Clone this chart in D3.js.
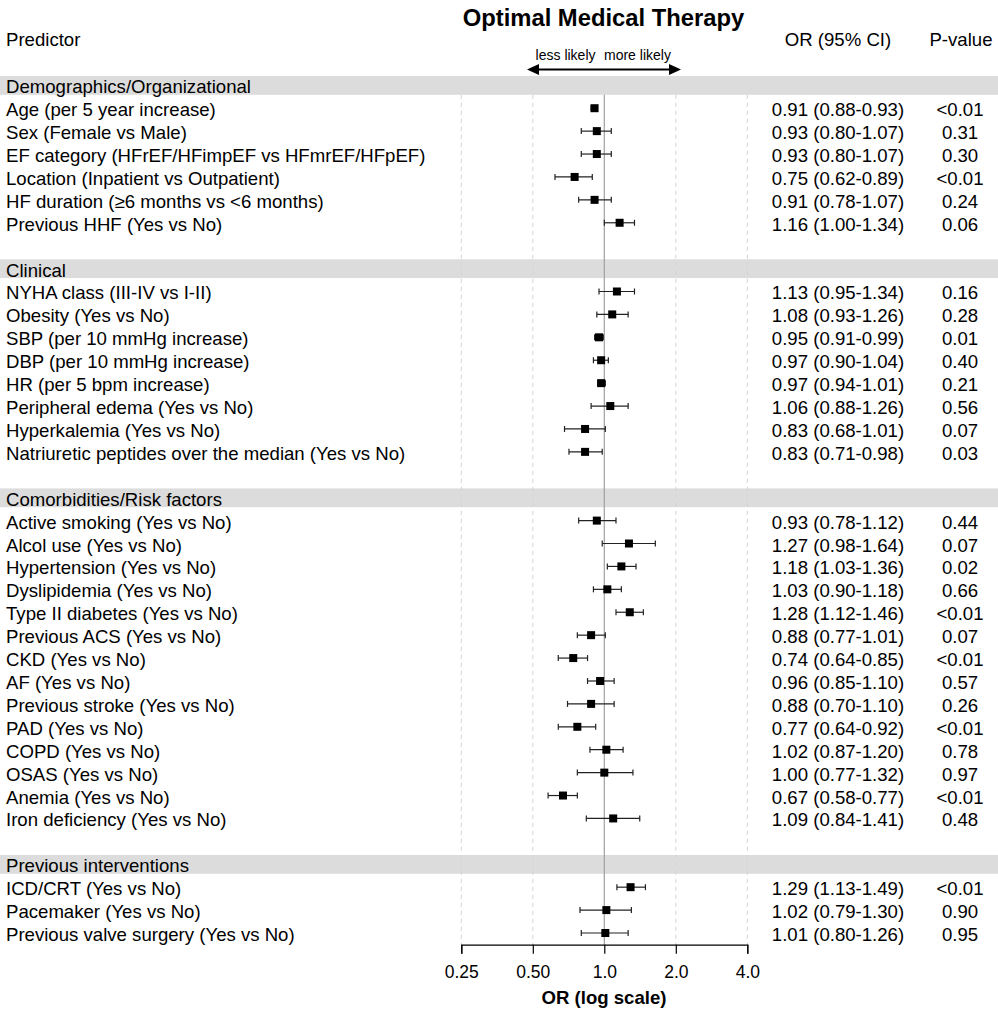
<!DOCTYPE html>
<html><head><meta charset="utf-8">
<script src="https://cdn.jsdelivr.net/npm/d3@7"></script>
<style>body{margin:0;background:#fff}svg{display:block;font-family:"Liberation Sans",Arial,Helvetica,sans-serif}</style>
</head><body><svg id="c" width="998" height="1017"></svg>
<script>
// Row list: type "h" = section header, "r" = predictor row, "b" = blank
const rowLabels = [
 "Demographics/Organizational",
 "Age (per 5 year increase)","Sex (Female vs Male)","EF category (HFrEF/HFimpEF vs HFmrEF/HFpEF)",
 "Location (Inpatient vs Outpatient)","HF duration (≥6 months vs <6 months)","Previous HHF (Yes vs No)",
 "",
 "Clinical",
 "NYHA class (III-IV vs I-II)","Obesity (Yes vs No)","SBP (per 10 mmHg increase)","DBP (per 10 mmHg increase)",
 "HR (per 5 bpm increase)","Peripheral edema (Yes vs No)","Hyperkalemia (Yes vs No)","Natriuretic peptides over the median (Yes vs No)",
 "",
 "Comorbidities/Risk factors",
 "Active smoking (Yes vs No)","Alcol use (Yes vs No)","Hypertension (Yes vs No)","Dyslipidemia (Yes vs No)",
 "Type II diabetes (Yes vs No)","Previous ACS (Yes vs No)","CKD (Yes vs No)","AF (Yes vs No)",
 "Previous stroke (Yes vs No)","PAD (Yes vs No)","COPD (Yes vs No)","OSAS (Yes vs No)",
 "Anemia (Yes vs No)","Iron deficiency (Yes vs No)",
 "",
 "Previous interventions",
 "ICD/CRT (Yes vs No)","Pacemaker (Yes vs No)","Previous valve surgery (Yes vs No)"
];
const rowTypes = ["h","r","r","r","r","r","r","b","h","r","r","r","r","r","r","r","r","b","h",
 "r","r","r","r","r","r","r","r","r","r","r","r","r","r","b","h","r","r","r"];
// values for predictor rows (in order)
const orValues = [0.91,0.93,0.93,0.75,0.91,1.16, 1.13,1.08,0.95,0.97,0.97,1.06,0.83,0.83,
 0.93,1.27,1.18,1.03,1.28,0.88,0.74,0.96,0.88,0.77,1.02,1.00,0.67,1.09, 1.29,1.02,1.01];
const ciLow = [0.88,0.80,0.80,0.62,0.78,1.00, 0.95,0.93,0.91,0.90,0.94,0.88,0.68,0.71,
 0.78,0.98,1.03,0.90,1.12,0.77,0.64,0.85,0.70,0.64,0.87,0.77,0.58,0.84, 1.13,0.79,0.80];
const ciHigh = [0.93,1.07,1.07,0.89,1.07,1.34, 1.34,1.26,0.99,1.04,1.01,1.26,1.01,0.98,
 1.12,1.64,1.36,1.18,1.46,1.01,0.85,1.10,1.10,0.92,1.20,1.32,0.77,1.41, 1.49,1.30,1.26];
const pValues = ["<0.01","0.31","0.30","<0.01","0.24","0.06","0.16","0.28","0.01","0.40","0.21","0.56","0.07","0.03",
 "0.44","0.07","0.02","0.66","<0.01","0.07","<0.01","0.57","0.26","<0.01","0.78","0.97","<0.01","0.48","<0.01","0.90","0.95"];
const tickValues = [0.25,0.5,1,2,4];
const tickLabels = ["0.25","0.50","1.0","2.0","4.0"];

const svg = d3.select("#c");
const x = d3.scaleLog().base(2).domain([0.25,4]).range([461.3,747.3]);
const y = d3.scaleLinear().domain([0,37]).range([85.3,933]);
const fmt = d3.format(".2f");
const FS = 18.6;

// section bands
rowTypes.forEach((t,i)=>{
  if(t==="h") svg.append("rect").attr("x",0).attr("width",998).attr("y",y(i)-9.3).attr("height",18.8).attr("fill","#dcdcdc");
});
// grid
const gTop = y(0)+9.5, gBot = 944.7;
tickValues.filter(v=>v!==1).forEach(v=>{
  svg.append("line").attr("x1",x(v)).attr("x2",x(v)).attr("y1",gTop).attr("y2",gBot)
    .attr("stroke","#d4d4d4").attr("stroke-width",1).attr("stroke-dasharray","4,4");
});
svg.append("line").attr("x1",x(1)).attr("x2",x(1)).attr("y1",gTop).attr("y2",gBot)
  .attr("stroke","#a0a0a0").attr("stroke-width",1.2);

// titles
svg.append("text").attr("x",603.5).attr("y",25.5).attr("text-anchor","middle").attr("font-size",23.8).attr("font-weight","bold").text("Optimal Medical Therapy");
svg.append("text").attr("x",6).attr("y",46).attr("font-size",FS).text("Predictor");
svg.append("text").attr("x",838).attr("y",46).attr("text-anchor","middle").attr("font-size",FS).text("OR (95% CI)");
svg.append("text").attr("x",961).attr("y",46).attr("text-anchor","middle").attr("font-size",FS).text("P-value");
svg.append("text").attr("x",595.5).attr("y",60).attr("text-anchor","end").attr("font-size",14).text("less likely");
svg.append("text").attr("x",604).attr("y",60).attr("text-anchor","start").attr("font-size",14).text("more likely");
// arrow
svg.append("line").attr("x1",536).attr("x2",672).attr("y1",69.5).attr("y2",69.5).attr("stroke","#000").attr("stroke-width",2);
svg.append("path").attr("d","M527,69.5 L539,64 L539,75 Z").attr("fill","#000");
svg.append("path").attr("d","M681,69.5 L669,64 L669,75 Z").attr("fill","#000");

// rows
let k=0;
rowTypes.forEach((t,i)=>{
  const yy = y(i);
  if(t==="b") return;
  svg.append("text").attr("x",6).attr("y",yy+8).attr("font-size",FS).text(rowLabels[i]);
  if(t==="r"){
    const j=k++;
    svg.append("text").attr("x",838).attr("y",yy+8).attr("text-anchor","middle").attr("font-size",FS)
      .text(`${fmt(orValues[j])} (${fmt(ciLow[j])}-${fmt(ciHigh[j])})`);
    svg.append("text").attr("x",960).attr("y",yy+8).attr("text-anchor","middle").attr("font-size",FS).text(pValues[j]);
    const g = svg.append("g").attr("stroke","#222").attr("stroke-width",1.2);
    g.append("line").attr("x1",x(ciLow[j])).attr("x2",x(ciHigh[j])).attr("y1",yy).attr("y2",yy);
    g.append("line").attr("x1",x(ciLow[j])).attr("x2",x(ciLow[j])).attr("y1",yy-3).attr("y2",yy+3);
    g.append("line").attr("x1",x(ciHigh[j])).attr("x2",x(ciHigh[j])).attr("y1",yy-3).attr("y2",yy+3);
    svg.append("rect").attr("x",x(orValues[j])-4).attr("y",yy-4).attr("width",8).attr("height",8).attr("fill","#000");
  }
});

// axis
const ax = svg.append("g").attr("transform","translate(0,944.7)")
  .call(d3.axisBottom(x).tickValues(tickValues).tickFormat((d,i)=>tickLabels[i]).tickSize(9).tickPadding(12));
ax.select(".domain").attr("stroke","#000").attr("stroke-width",1.2);
ax.selectAll(".tick line").attr("stroke","#000").attr("stroke-width",1.2);
ax.selectAll("text").attr("font-size",17.5).attr("font-family","Liberation Sans,Arial,sans-serif").attr("fill","#000");
svg.append("text").attr("x",604).attr("y",1004).attr("text-anchor","middle").attr("font-size",18.6).attr("font-weight","bold").text("OR (log scale)");
</script></body></html>
